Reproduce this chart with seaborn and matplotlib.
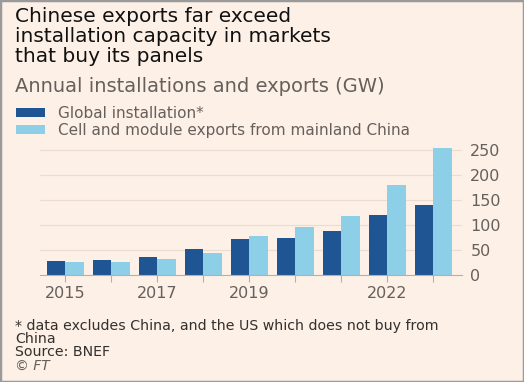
import matplotlib
matplotlib.use("Agg")
import matplotlib.pyplot as plt
from matplotlib.patches import Rectangle, Patch
import seaborn as sns
import pandas as pd

years = ["2015", "2016", "2017", "2018", "2019", "2020", "2021", "2022", "2023"]
global_installation = [29, 31, 37, 52, 73, 75, 89, 121, 140]
china_exports = [26, 26, 32, 45, 79, 97, 119, 181, 255]
series_names = ["Global installation*", "Cell and module exports from mainland China"]
shown_year_labels = ["2015", "2017", "2019", "2022"]
y_ticks = [0, 50, 100, 150, 200, 250]

BG = "#fdf0e6"
DARK = "#1e5592"
LIGHT = "#8ecfe8"
GRAY = "#66605c"
TEXT = "#33302e"

df = pd.DataFrame({
    "year": years * 2,
    "value": global_installation + china_exports,
    "series": [series_names[0]] * len(years) + [series_names[1]] * len(years),
})

sns.set_theme(style="white")
plt.rcParams["font.family"] = ["DejaVu Sans"]

W, H = 524, 382
fig = plt.figure(figsize=(W / 100, H / 100), dpi=100, facecolor=BG)

def fx(px):
    return px / W

def fy(py):
    return 1 - py / H

ax_left, ax_right, ax_top, ax_bot = 40, 462, 145.3, 275.3
ax = fig.add_axes([fx(ax_left), fy(ax_bot), fx(ax_right - ax_left), (ax_bot - ax_top) / H])
ax.set_facecolor(BG)

sns.barplot(data=df, x="year", y="value", hue="series", order=years,
            hue_order=series_names, palette=[DARK, LIGHT], width=0.8,
            saturation=1, ax=ax, legend=False, linewidth=0)

ax.set_ylim(0, 260)
ax.set_xlim(-0.55, 8.62)
ax.set_yticks(y_ticks)
ax.set_yticklabels([str(v) for v in y_ticks])
ax.yaxis.tick_right()
ax.tick_params(axis="y", length=0, pad=6, labelsize=11.5, labelcolor=GRAY)
ax.set_xticks(range(len(years)))
ax.set_xticklabels([y if y in shown_year_labels else "" for y in years])
ax.tick_params(axis="x", length=5, width=0.8, color="#b8aea6", direction="out",
               pad=3, labelsize=11.5, labelcolor=GRAY, bottom=True)
ax.set_xlabel("")
ax.set_ylabel("")
for s in ["top", "right", "left"]:
    ax.spines[s].set_visible(False)
ax.spines["bottom"].set_color("#b8aea6")
ax.spines["bottom"].set_linewidth(0.8)
for v in y_ticks[1:]:
    ax.axhline(v, color="#eadcd0", linewidth=0.8, zorder=0)
ax.set_axisbelow(True)

# Title, subtitle
fig.text(fx(15), fy(7), "Chinese exports far exceed\ninstallation capacity in markets\nthat buy its panels",
         fontsize=14.5, color="#111111", va="top", ha="left", linespacing=1.08)
fig.text(fx(15), fy(86), "Annual installations and exports (GW)",
         fontsize=14, color=GRAY, va="center", ha="left")

# Legend
handles = [Patch(facecolor=DARK, edgecolor="none"), Patch(facecolor=LIGHT, edgecolor="none")]
fig.legend(handles, series_names, loc="upper left", bbox_to_anchor=(fx(16), fy(106)),
           frameon=False, fontsize=11, handlelength=1.9, handleheight=0.6,
           handletextpad=0.85, labelspacing=0.12, labelcolor=GRAY, borderaxespad=0,
           borderpad=0)

# Footnote
fig.text(fx(15), fy(319), "* data excludes China, and the US which does not buy from\nChina\nSource: BNEF",
         fontsize=10.2, color=TEXT, va="top", ha="left", linespacing=0.92)
fig.text(fx(15), fy(366), "© FT", fontsize=10, color=GRAY, va="center", ha="left", style="italic")

# Frame
fig.patches.append(Rectangle((0, 0), 1, 1, transform=fig.transFigure, fill=False,
                             edgecolor="#9a9a9a", linewidth=2.5))

fig.savefig("out.png", dpi=100, facecolor=BG)
